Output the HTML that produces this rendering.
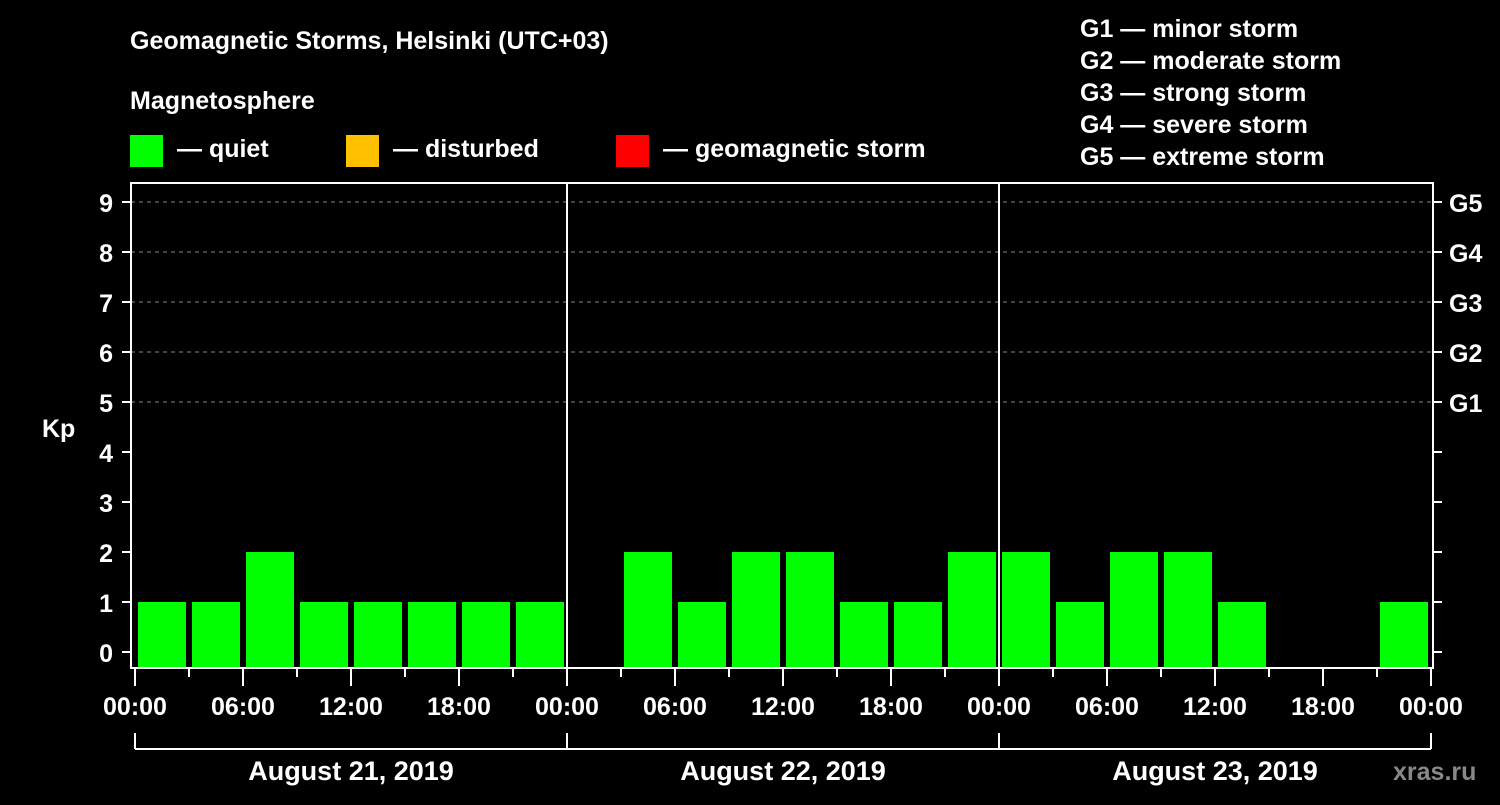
<!DOCTYPE html>
<html><head><meta charset="utf-8"><style>
body{margin:0;background:#000;width:1500px;height:800px;overflow:hidden}
svg{font-family:"Liberation Sans",Arial,sans-serif;font-weight:bold}
</style></head><body>
<svg id="chart" width="1500" height="800" viewBox="0 0 1500 800">
<rect width="1500" height="800" fill="#000"/>
<text x="130" y="49" fill="#fff" font-size="25">Geomagnetic Storms, Helsinki (UTC+03)</text>
<text x="130" y="109" fill="#fff" font-size="25">Magnetosphere</text>
<rect x="130" y="135" width="33" height="32" fill="#00ff00"/>
<text x="177" y="157" fill="#fff" font-size="25">— quiet</text>
<rect x="346" y="135" width="33" height="32" fill="#ffc000"/>
<text x="393" y="157" fill="#fff" font-size="25">— disturbed</text>
<rect x="616" y="135" width="33" height="32" fill="#ff0000"/>
<text x="663" y="157" fill="#fff" font-size="25">— geomagnetic storm</text>
<g fill="#fff" font-size="25">
<text x="1080" y="37">G1 — minor storm</text>
<text x="1080" y="69">G2 — moderate storm</text>
<text x="1080" y="101">G3 — strong storm</text>
<text x="1080" y="133">G4 — severe storm</text>
<text x="1080" y="165">G5 — extreme storm</text>
</g>
<text x="42" y="437" fill="#fff" font-size="25">Kp</text>
<g id="grid"></g><g id="bars"></g><g id="axes"></g>
<text x="1393" y="780" fill="#888" font-size="25">xras.ru</text>
</svg>
<script>
const days = ["August 21, 2019","August 22, 2019","August 23, 2019"];
const kpValues = [1,1,2,1,1,1,1,1, 0,2,1,2,2,1,1,2, 2,1,2,2,1,0,0,1];
const yTicks = [0,1,2,3,4,5,6,7,8,9];
const gLabels = ["G1","G2","G3","G4","G5"];
const gLevels = [5,6,7,8,9];
const hourLabels = ["00:00","06:00","12:00","18:00"];

const NS="http://www.w3.org/2000/svg";
const L=131,R=1433,T=183,B=668,X0=135,DAYW=432;
const y=v=>652-v*50;
const x=h=>X0+h*DAYW/24;
function mk(tag,attrs,parent){const e=document.createElementNS(NS,tag);for(const k in attrs)e.setAttribute(k,attrs[k]);parent.appendChild(e);return e;}
const grid=document.getElementById('grid'),bars=document.getElementById('bars'),axes=document.getElementById('axes');

gLevels.forEach((g,i)=>{
 const ln=mk('line',{x1:L,x2:R,y1:y(g),y2:y(g),stroke:'#888','stroke-dasharray':'4,4','stroke-width':1},grid);
 
 
 const t=mk('text',{x:1449,y:y(g)+10,fill:'#fff','font-size':25},axes);
 t.textContent=gLabels[i];
 
 
});

kpValues.forEach((v,i)=>{
 if(v<=0)return;
 const cx=x(i*3+1.5);
 const r=mk('rect',{x:cx-24,y:y(v),width:48,height:B-1-y(v),fill:v>=5?'#ff0000':(v>=4?'#ffc000':'#00ff00')},bars);
 
 
});

const frame=mk('rect',{x:L,y:T,width:R-L,height:B-T,fill:'none',stroke:'#fff','stroke-width':2},axes);


for(let d=1;d<days.length;d++){
 const dl=mk('line',{x1:x(d*24),x2:x(d*24),y1:T,y2:B,stroke:'#fff','stroke-width':2},axes);
 
 
}
yTicks.forEach(v=>{
 mk('line',{x1:122,x2:L,y1:y(v),y2:y(v),stroke:'#fff','stroke-width':2},axes);
 mk('line',{x1:R,x2:1442,y1:y(v),y2:y(v),stroke:'#fff','stroke-width':2},axes);
 const t=mk('text',{x:113,y:y(v)+10,fill:'#fff','font-size':25,'text-anchor':'end'},axes);
 t.textContent=v;
 
 
});
const totalH=days.length*24;
for(let h=0;h<=totalH;h+=3){
 const major=h%6===0;
 mk('line',{x1:x(h),x2:x(h),y1:B,y2:major?686:677,stroke:'#fff','stroke-width':2},axes);
 if(h%6===0 && (h%24!==0||true) && h%6===0){
  const idx=(h%24)/6;
  const t=mk('text',{x:x(h),y:715,fill:'#fff','font-size':25,'text-anchor':'middle'},axes);
  t.textContent=hourLabels[idx];
  
  
 }
}
mk('line',{x1:x(0),x2:x(totalH),y1:749,y2:749,stroke:'#fff','stroke-width':2},axes);
for(let d=0;d<=days.length;d++) mk('line',{x1:x(d*24),x2:x(d*24),y1:733,y2:749,stroke:'#fff','stroke-width':2},axes);
days.forEach((d,i)=>{
 const t=mk('text',{x:x(i*24+12),y:780,fill:'#fff','font-size':27,'text-anchor':'middle'},axes);
 t.textContent=d;
 
 
});
</script>
</body></html>
